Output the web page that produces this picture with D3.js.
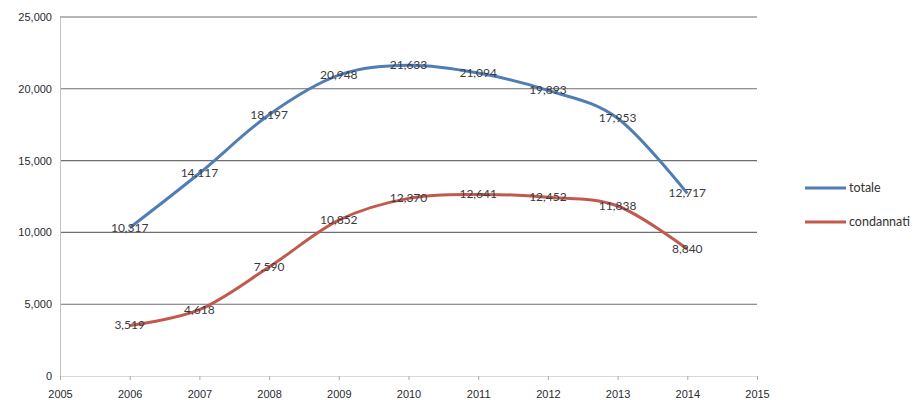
<!DOCTYPE html>
<html>
<head>
<meta charset="utf-8">
<script src="https://cdn.jsdelivr.net/npm/d3@7"></script>
<style>
  html, body { margin: 0; padding: 0; background: #fff; }
  svg { display: block; font-family: Lato, "Open Sans", sans-serif; }
</style>
</head>
<body>
<svg id="chart" width="921" height="400"></svg>
<script>
// Years on the x axis and the two yearly series
const years = [2006, 2007, 2008, 2009, 2010, 2011, 2012, 2013, 2014];
const totale = [10317, 14117, 18197, 20948, 21633, 21094, 19893, 17953, 12717];
const condannati = [3519, 4618, 7590, 10852, 12370, 12641, 12452, 11838, 8840];
const xTicks = [2005, 2006, 2007, 2008, 2009, 2010, 2011, 2012, 2013, 2014, 2015];
const yTicks = [0, 5000, 10000, 15000, 20000, 25000];
const seriesNames = ["totale", "condannati"];
const seriesColors = ["#4f7db4", "#c05a4f"];

const svg = d3.select("#chart");
const plotLeft = 60, plotRight = 757, plotTop = 17, plotBottom = 376;

const x = d3.scaleLinear().domain([2005, 2015]).range([plotLeft, plotRight]);
const y = d3.scaleLinear().domain([0, 25000]).range([plotBottom, plotTop]);

// horizontal gridlines
svg.append("g")
  .selectAll("line")
  .data(yTicks.filter(d => d > 0))
  .join("line")
  .attr("x1", plotLeft).attr("x2", plotRight)
  .attr("y1", d => y(d)).attr("y2", d => y(d))
  .attr("stroke", "#6e6e72").attr("stroke-width", 1.1);

// y axis
const yAxis = svg.append("g")
  .attr("transform", `translate(${plotLeft},0)`)
  .call(d3.axisLeft(y).tickValues(yTicks).tickSize(0).tickPadding(8)
    .tickFormat(d3.format(",")));
yAxis.select(".domain").attr("stroke", "#c4c4c8");
yAxis.selectAll("text").attr("font-size", 11).attr("fill", "#2a2a30");

// x axis
const xAxis = svg.append("g")
  .attr("transform", `translate(0,${plotBottom})`)
  .call(d3.axisBottom(x).tickValues(xTicks).tickSize(4).tickPadding(10)
    .tickFormat(d3.format("d")));
xAxis.select(".domain").attr("stroke", "#d8d8dc");
xAxis.selectAll(".tick line").attr("stroke", "#aaa");
xAxis.selectAll("text").attr("font-size", 11).attr("fill", "#2a2a30");

// series lines and value labels
const line = d3.line()
  .x((d, i) => x(years[i]))
  .y(d => y(d))
  .curve(d3.curveCardinal.tension(0));

[totale, condannati].forEach((vals, k) => {
  svg.append("path")
    .datum(vals)
    .attr("fill", "none")
    .attr("stroke", seriesColors[k])
    .attr("stroke-width", 3)
    .attr("stroke-linejoin", "round")
    .attr("d", line);

  svg.append("g")
    .selectAll("text")
    .data(vals)
    .join("text")
    .attr("x", (d, i) => x(years[i]))
    .attr("y", d => y(d) + 4)
    .attr("text-anchor", "middle")
    .attr("font-size", 12)
    .attr("fill", "#3a3a40")
    .text(d => d3.format(",")(d));
});

// legend
const legend = svg.append("g");
seriesNames.forEach((name, k) => {
  const ly = 188 + k * 34;
  legend.append("line")
    .attr("x1", 805).attr("x2", 846)
    .attr("y1", ly).attr("y2", ly)
    .attr("stroke", seriesColors[k]).attr("stroke-width", 3);
  legend.append("text")
    .attr("x", 849).attr("y", ly + 4)
    .attr("font-size", 12.5)
    .attr("fill", "#333")
    .text(name);
});
</script>
</body>
</html>
